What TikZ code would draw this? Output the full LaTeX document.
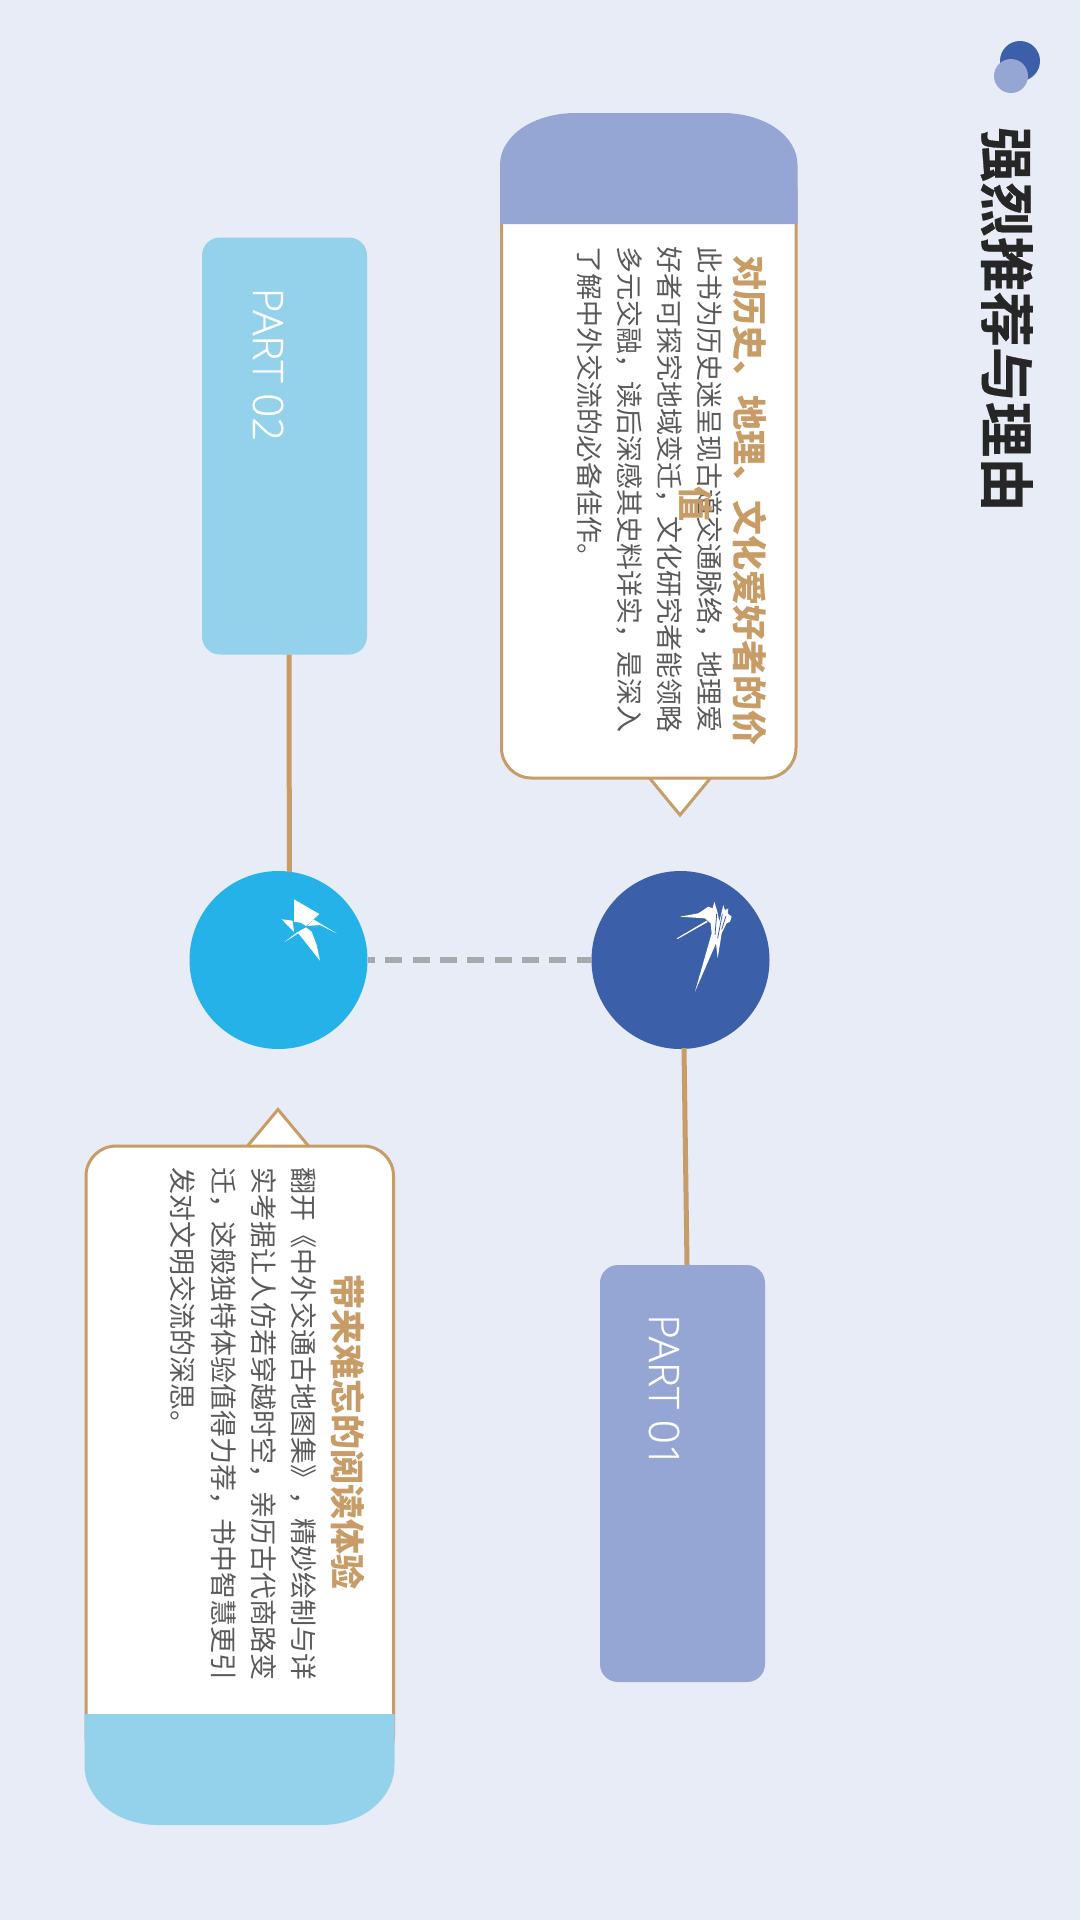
\documentclass[tikz,border=0pt]{standalone}
\usepackage{fontspec}
\usetikzlibrary{calc}
\newfontfamily\cjkf{Noto Sans CJK SC}
\newfontfamily\cjkh{Noto Sans CJK SC Bold}[FakeBold=0.5]
\newfontfamily\partf{Open Sans}[UprightFont=* Light,UprightFeatures={FakeBold=0.5}]
\definecolor{bgc}{HTML}{E7ECF6}
\definecolor{navy}{HTML}{3C5FAA}
\definecolor{skyc}{HTML}{24B2E8}
\definecolor{palesky}{HTML}{94D2EC}
\definecolor{periw}{HTML}{95A6D5}
\definecolor{tan}{HTML}{C79C66}
\definecolor{bodyc}{HTML}{5A5A5A}
\definecolor{headc}{HTML}{262626}
\definecolor{dashc}{HTML}{A7A9AC}
\tikzset{
  every node/.style={inner sep=0pt,outer sep=0pt},
  txt/.style={rotate=-90,anchor=west,text height=#1*0.76pt,text depth=0pt},
  bodyline/.style={txt=27,font=\cjkf\fontsize{27}{27}\selectfont,text=bodyc},
  titleline/.style={txt=35,font=\cjkf\bfseries\fontsize{35}{35}\selectfont,text=tan},
  cardbody/.style={draw=tan,fill=white,line width=3pt,rounded corners=30pt,minimum width=#1},
  pointer/.style={draw=tan,fill=white,line width=3pt,line join=miter},
  partbox/.style={rounded corners=18pt,minimum width=165pt,minimum height=417pt},
  parttext/.style={rotate=-90,anchor=center,text=white,font=\partf\fontsize{42}{42}\selectfont},
  hub/.style={circle,minimum size=178pt},
  link/.style={draw=tan,line width=5pt},
  bird/.style={fill=white,draw=none}
}
\begin{document}
\begin{tikzpicture}[x=1pt,y=-1pt]
\useasboundingbox (0,0) rectangle (1080,1920);
\fill[bgc] (0,0) rectangle (1080,1920);

% top dots and heading
\node (dotA) [circle,fill=navy,minimum size=40pt] at (1020,61) {};
\node (dotB) [circle,fill=periw,minimum size=34pt] at (1011,76) {};
\node (heading) [txt=55,font=\cjkh\fontsize{55}{55}\selectfont,text=headc] at (1007,127) {强烈推荐与理由};

% card 1
\path[pointer] (647,775) -- (680,815) -- (713,775) -- cycle;
\node (card1) [cardbody=294.5pt,minimum height=618pt] at (648.75,469) {};
\fill[periw] (500,224) -- (500,165) .. controls (500,136) and (533,113) .. (576,113) -- (722,113) .. controls (765,113) and (797.5,136) .. (797.5,165) -- (797.5,224) -- cycle;
\node (t1a) [titleline] at (750,255) {对历史、地理、文化爱好者的价};
\node (b1a) [bodyline] at (710,246.5) {此书为历史迷呈现古道交通脉络，地理爱};
\node (b1b) [bodyline] at (669.5,246.5) {好者可探究地域变迁，文化研究者能领略};
\node (b1c) [bodyline] at (629.5,246.5) {多元交融，读后深感其史料详实，是深入};
\node (b1d) [bodyline] at (589.5,246.5) {了解中外交流的必备佳作。};
\node (t1b) [titleline] at (696,486) {值};

% card 2
\path[pointer] (245,1149) -- (278,1109.5) -- (311,1149) -- cycle;
\node (card2) [cardbody=307.5pt,minimum height=620pt] at (239.75,1456) {};
\fill[palesky] (84.5,1714) -- (84.5,1765) .. controls (84.5,1798) and (116,1825) .. (158,1825) -- (321,1825) .. controls (363,1825) and (394.5,1798) .. (394.5,1765) -- (394.5,1714) -- cycle;
\node (t2) [titleline] at (347.5,1274) {带来难忘的阅读体验};
\node (b2a) [bodyline] at (303.5,1167.5) {翻开《中外交通古地图集》，精妙绘制与详};
\node (b2b) [bodyline] at (264,1167.5) {实考据让人仿若穿越时空，亲历古代商路变};
\node (b2c) [bodyline] at (224,1167.5) {迁，这般独特体验值得力荐，书中智慧更引};
\node (b2d) [bodyline] at (183,1167.5) {发对文明交流的深思。};

% part boxes and hubs
\node (p2) [partbox,fill=palesky] at (284.5,446) {};
\node (p1) [partbox,fill=periw] at (682.5,1473.5) {};
\node (p2t) [parttext] at (268,364.5) {PART 02};
\node (p1t) [parttext] at (664,1391) {PART 01};
\node (c2) [hub,fill=skyc] at (278.5,960) {};
\node (c1) [hub,fill=navy] at (680.5,960) {};

% connectors
\draw[link] ($(p2.south)+(4.5,0)$) -- ($(c2.north)+(10.9,1)$);
\draw[link] ($(c1.south)+(3.5,-1)$) -- ($(p1.north)+(4.5,0)$);
\draw[dashc,line width=6.5pt,dash pattern=on 17pt off 10.3pt,dash phase=2pt] (c1.west) -- (c2.east);

% swallow on the light circle
\begin{scope}[shift={(270,890)},x=0.3333pt,y=-0.3333pt]
\fill[bird] (72,28) -- (148,72) -- (108,108) -- (92,98) -- (72,95) -- cycle;
\fill[bird] (35,88) -- (68,92) -- (72,126) -- cycle;
\fill[bird] (112,108) -- (130,88) -- (200,130) -- (150,105) -- cycle;
\fill[bird] (42,157) -- (80,128) -- (108,112) -- (125,125) -- (140,165) -- (150,212) -- (85,130) -- cycle;
\end{scope}

% swallow on the dark circle
\begin{scope}[shift={(665,890)},x=0.3333pt,y=-0.3333pt]
\fill[bird] (45,80) -- (100,70) -- (130,50) -- (143,55) -- (148,35) -- (157,65) -- (163,95) -- (175,45) -- (180,60) -- (190,55) -- (188,70) -- (200,80) -- (195,95) -- (185,100) -- (170,130) -- (158,205) -- (153,160) -- (90,305) -- (140,130) -- (137,100) -- (120,85) -- cycle;
\fill[bird] (35,145) -- (125,92) -- (128,96) -- (38,147) -- cycle;
\draw[navy,line width=0.8pt] (155,72) -- (150,135) (172,72) -- (158,145) (183,78) -- (170,118);
\end{scope}
\end{tikzpicture}
\end{document}
